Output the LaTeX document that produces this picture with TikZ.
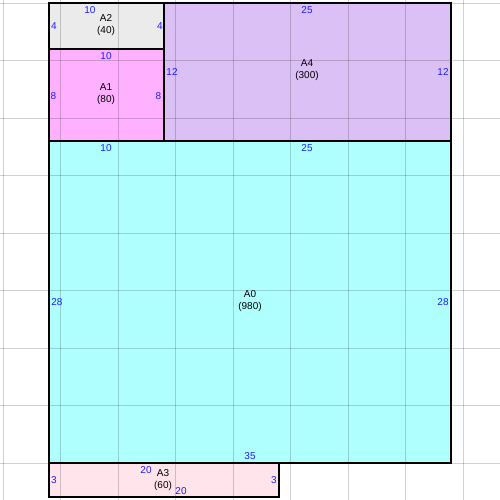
\documentclass[tikz,border=0pt]{standalone}
\usepackage{fontspec}
\setmainfont{Liberation Sans}
\definecolor{cA2}{HTML}{EBEBEB}
\definecolor{cA1}{HTML}{FFB0FF}
\definecolor{cA4}{HTML}{DBC0F5}
\definecolor{cA0}{HTML}{B0FFFF}
\definecolor{cA3}{HTML}{FFE4EC}
\definecolor{numblue}{RGB}{30,30,255}
\begin{document}
\begin{tikzpicture}[x=1pt,y=-1pt,
  num/.style={text=numblue,inner sep=0pt,font=\fontsize{10}{12}\selectfont},
  lbl/.style={text=black,inner sep=0pt,align=center,font=\fontsize{10}{12}\selectfont},
  box/.style={draw=black,line width=1.1pt},
  gridline/.style={draw=black,opacity=0.18,line width=0.9pt}]
\useasboundingbox (0,0) rectangle (500,500);
\fill[white] (0,0) rectangle (500,500);
% fills
\fill[cA2] (49,3) rectangle (164,49);
\fill[cA1] (49,49) rectangle (164,141);
\fill[cA4] (164,3) rectangle (451,141);
\fill[cA0] (49,141) rectangle (451,463);
\fill[cA3] (49,463) rectangle (279,497);
% grid
\foreach \k in {0,...,8}{
  \draw[gridline] (3+57.5*\k,0) -- (3+57.5*\k,500);
  \draw[gridline] (0,3+57.5*\k) -- (500,3+57.5*\k);
}
% borders
\draw[box] (49,3) rectangle (164,49);
\draw[box] (49,49) rectangle (164,141);
\draw[box] (164,3) rectangle (451,141);
\draw[box] (49,141) rectangle (451,463);
\draw[box] (49,463) rectangle (279,497);
% A2
\node[num] (a2t) at (90,10) {10};
\node[num] (a2l) at (54,26) {4};
\node[num] (a2r) at (160,26) {4};
\node[lbl] (a2) at (106,25.5) {A2\\(40)};
% A1
\node[num] (a1t) at (106,56) {10};
\node[num] (a1l) at (53.5,96) {8};
\node[num] (a1r) at (158.5,96) {8};
\node[lbl] (a1) at (106,94) {A1\\(80)};
% A4
\node[num] (a4t) at (307,10) {25};
\node[num] (a4l) at (172,72) {12};
\node[num] (a4r) at (443,72) {12};
\node[lbl] (a4) at (307,70.5) {A4\\(300)};
% A0
\node[num] (a0t1) at (106,148) {10};
\node[num] (a0t2) at (307,148) {25};
\node[num] (a0l) at (57,302) {28};
\node[num] (a0r) at (443,302) {28};
\node[num] (a0b) at (250,456) {35};
\node[lbl] (a0) at (250,301) {A0\\(980)};
% A3
\node[num] (a3t) at (146,470.5) {20};
\node[num] (a3b) at (181,491) {20};
\node[num] (a3l) at (54,480) {3};
\node[num] (a3r) at (274,480) {3};
\node[lbl] (a3) at (163,480) {A3\\(60)};
\end{tikzpicture}
\end{document}
